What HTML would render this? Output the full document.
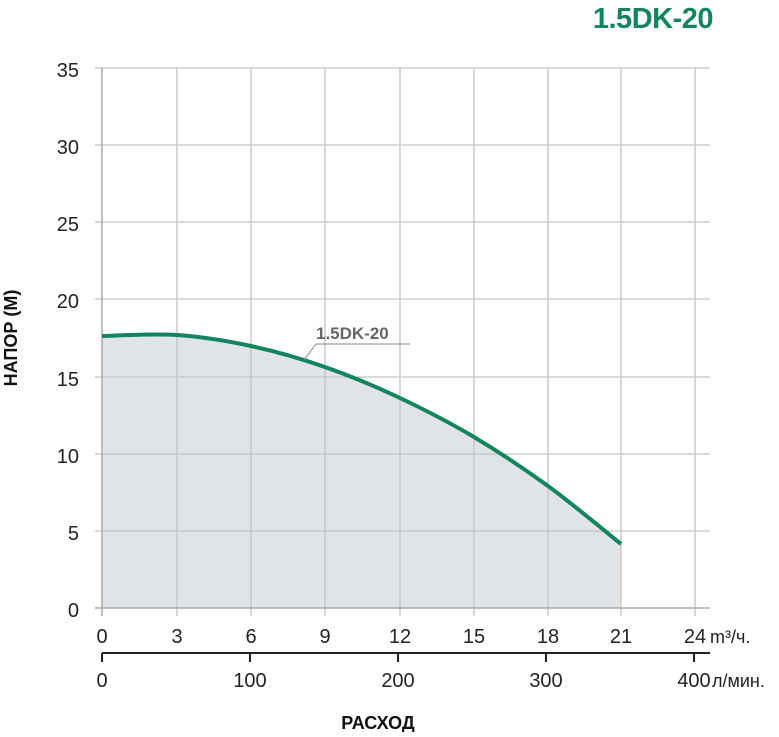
<!DOCTYPE html>
<html><head><meta charset="utf-8"><style>body{margin:0;background:#fff}</style></head><body>
<svg width="779" height="732" xmlns="http://www.w3.org/2000/svg" font-family="Liberation Sans, sans-serif">
<text x="713" y="28" text-anchor="end" font-size="29" font-weight="bold" fill="#12845f" letter-spacing="-0.5">1.5DK-20</text>
<path d="M102,336 C114.5,335.8 152.2,333.3 177,335 C201.8,336.7 226.3,340.7 251,346 C275.7,351.3 300.2,358.3 325,367 C349.8,375.7 375.2,386.3 400,398 C424.7,409.7 449.3,422.3 474,437 C498.5,451.7 523.5,468.2 548,486 C572.5,503.8 608.8,534.3 621,544 L621,608 L102,608Z" fill="#e1e4e6"/>
<g stroke="#c4c4c4" stroke-width="1.3">
<line x1="177" y1="68" x2="177" y2="616"/><line x1="251" y1="68" x2="251" y2="616"/><line x1="325" y1="68" x2="325" y2="616"/><line x1="400" y1="68" x2="400" y2="616"/><line x1="474" y1="68" x2="474" y2="616"/><line x1="548" y1="68" x2="548" y2="616"/><line x1="621" y1="68" x2="621" y2="616"/><line x1="695" y1="68" x2="695" y2="616"/>
<line x1="95" y1="68" x2="710" y2="68"/><line x1="95" y1="145" x2="710" y2="145"/><line x1="95" y1="222" x2="710" y2="222"/><line x1="95" y1="299" x2="710" y2="299"/><line x1="95" y1="377" x2="710" y2="377"/><line x1="95" y1="454" x2="710" y2="454"/><line x1="95" y1="531" x2="710" y2="531"/>
</g>
<line x1="102" y1="68" x2="102" y2="616" stroke="#aaa" stroke-width="1.5"/>
<line x1="95" y1="608" x2="710" y2="608" stroke="#aaa" stroke-width="1.5"/>
<path d="M102,336 C114.5,335.8 152.2,333.3 177,335 C201.8,336.7 226.3,340.7 251,346 C275.7,351.3 300.2,358.3 325,367 C349.8,375.7 375.2,386.3 400,398 C424.7,409.7 449.3,422.3 474,437 C498.5,451.7 523.5,468.2 548,486 C572.5,503.8 608.8,534.3 621,544" fill="none" stroke="#12845f" stroke-width="4"/>
<path d="M304,360 L316,344 L410,344" fill="none" stroke="#888" stroke-width="1"/>
<text x="316" y="339" font-size="17" font-weight="bold" fill="#666">1.5DK-20</text>
<g font-size="20" fill="#222" text-anchor="end">
<text x="79" y="77">35</text><text x="79" y="154">30</text><text x="79" y="231">25</text><text x="79" y="308">20</text><text x="79" y="386">15</text><text x="79" y="463">10</text><text x="79" y="540">5</text><text x="79" y="617">0</text>
</g>
<g font-size="20" fill="#222" text-anchor="middle">
<text x="102" y="643">0</text><text x="177" y="643">3</text><text x="251" y="643">6</text><text x="325" y="643">9</text><text x="400" y="643">12</text><text x="474" y="643">15</text><text x="548" y="643">18</text><text x="621" y="643">21</text><text x="695" y="643">24</text>
<text x="102" y="687">0</text><text x="250" y="687">100</text><text x="398" y="687">200</text><text x="546" y="687">300</text><text x="694" y="687">400</text>
</g>
<text x="710" y="643" font-size="18" fill="#222">m³/ч.</text>
<text x="712" y="687" font-size="18" fill="#222">л/мин.</text>
<line x1="102" y1="653" x2="710" y2="653" stroke="#222" stroke-width="2"/>
<g stroke="#222" stroke-width="2"><line x1="102" y1="653" x2="102" y2="662"/><line x1="250" y1="653" x2="250" y2="662"/><line x1="398" y1="653" x2="398" y2="662"/><line x1="546" y1="653" x2="546" y2="662"/><line x1="694" y1="653" x2="694" y2="662"/></g>
<text x="378" y="729" font-size="18" font-weight="bold" fill="#111" text-anchor="middle">РАСХОД</text>
<text transform="translate(17,338) rotate(-90)" font-size="18" font-weight="bold" fill="#111" text-anchor="middle">НАПОР (М)</text>
</svg>
</body></html>
